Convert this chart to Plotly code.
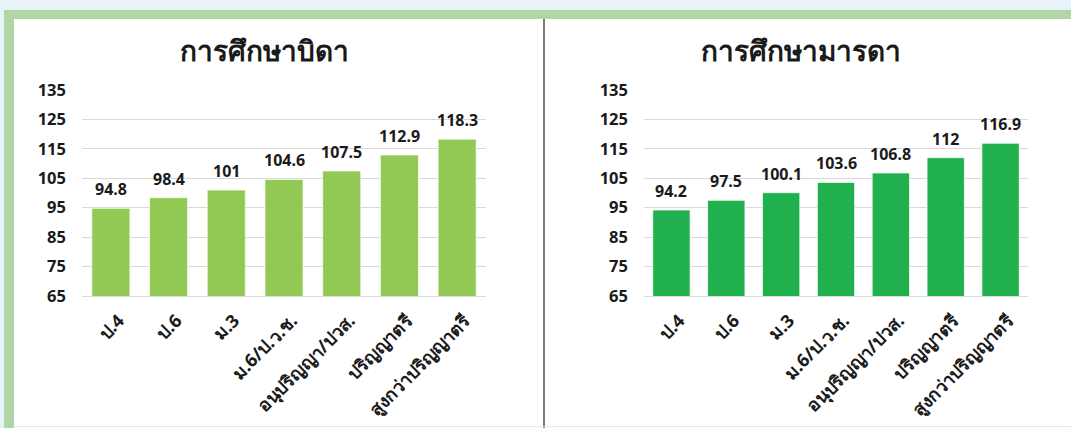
import plotly.graph_objects as go

categories = ["ป.4", "ป.6", "ม.3", "ม.6/ป.ว.ช.", "อนุปริญญา/ปวส.", "ปริญญาตรี", "สูงกว่าปริญญาตรี"]
father_values = [94.8, 98.4, 101, 104.6, 107.5, 112.9, 118.3]
mother_values = [94.2, 97.5, 100.1, 103.6, 106.8, 112, 116.9]
title_father = "การศึกษาบิดา"
title_mother = "การศึกษามารดา"
y_ticks = [65, 75, 85, 95, 105, 115, 125, 135]

W, H = 1071, 428
FONT = "Noto Sans, DejaVu Sans, sans-serif"


def px(x):
    return x / W


def py(y):
    return 1 - y / H


fig = go.Figure()
fig.add_trace(go.Bar(
    x=categories, y=father_values, xaxis="x", yaxis="y",
    marker=dict(color="#92c955", line=dict(color="rgba(255,255,255,0.7)", width=1)),
    width=0.66, showlegend=False, hoverinfo="x+y",
))
fig.add_trace(go.Bar(
    x=categories, y=mother_values, xaxis="x2", yaxis="y2",
    marker=dict(color="#21b04e", line=dict(color="rgba(255,255,255,0.7)", width=1)),
    width=0.68, showlegend=False, hoverinfo="x+y",
))

yaxis_common = dict(
    range=[65, 135], tickvals=y_ticks, showgrid=True, gridcolor="#d9d9d9", gridwidth=1,
    zeroline=False, showline=False, ticks="", ticklabelstandoff=15, automargin=False,
    tickfont=dict(size=16.5, color="#1a1a1a", family=FONT, weight="bold"),
    domain=[py(296), py(90)], fixedrange=True,
)
xaxis_common = dict(
    type="category", tickangle=-45, showgrid=False, zeroline=False, automargin=False,
    showline=True, linecolor="#d9d9d9", linewidth=1, ticks="", ticklabelstandoff=6,
    ticklabelshift=8,
    tickfont=dict(size=18, color="#1a1a1a", family=FONT, weight="bold"), fixedrange=True,
)

annotations = [
    dict(text="<b>" + title_father + "</b>", xref="paper", yref="paper",
         x=px(264), y=py(50), showarrow=False, xanchor="center", yanchor="middle",
         font=dict(size=28, color="#1a1a1a", family=FONT)),
    dict(text="<b>" + title_mother + "</b>", xref="paper", yref="paper",
         x=px(801), y=py(50), showarrow=False, xanchor="center", yanchor="middle",
         font=dict(size=28, color="#1a1a1a", family=FONT)),
]
for xr, yr, vals in [("x", "y", father_values), ("x2", "y2", mother_values)]:
    for c, v in zip(categories, vals):
        annotations.append(dict(
            text="<b>" + str(v) + "</b>", xref=xr, yref=yr, x=c, y=v,
            showarrow=False, xanchor="center", yanchor="bottom", yshift=6,
            font=dict(size=16, color="#1a1a1a", family=FONT),
        ))

fig.update_layout(
    width=W, height=H, margin=dict(l=0, r=0, t=0, b=0, autoexpand=False),
    paper_bgcolor="#e8f3f9", plot_bgcolor="rgba(0,0,0,0)",
    xaxis=dict(domain=[px(82), px(486)], anchor="y", **xaxis_common),
    yaxis=dict(anchor="x", **yaxis_common),
    xaxis2=dict(domain=[px(644), px(1028)], anchor="y2", **xaxis_common),
    yaxis2=dict(anchor="x2", **yaxis_common),
    shapes=[
        dict(type="rect", xref="paper", yref="paper", x0=px(4), x1=1, y0=0, y1=py(10),
             fillcolor="#b0d6a6", line=dict(width=0), layer="below"),
        dict(type="rect", xref="paper", yref="paper", x0=px(14), x1=1, y0=0, y1=py(19),
             fillcolor="#ffffff", line=dict(width=0), layer="below"),
        dict(type="line", xref="paper", yref="paper", x0=px(544), x1=px(544), y0=0, y1=py(19),
             line=dict(color="#333333", width=1.3), layer="below"),
        dict(type="line", xref="paper", yref="paper", x0=px(14), x1=1, y0=py(426.5), y1=py(426.5),
             line=dict(color="#e6e6e6", width=1), layer="below"),
    ],
    annotations=annotations,
    font=dict(family=FONT, color="#1a1a1a"),
)

fig.write_html("out.html")
